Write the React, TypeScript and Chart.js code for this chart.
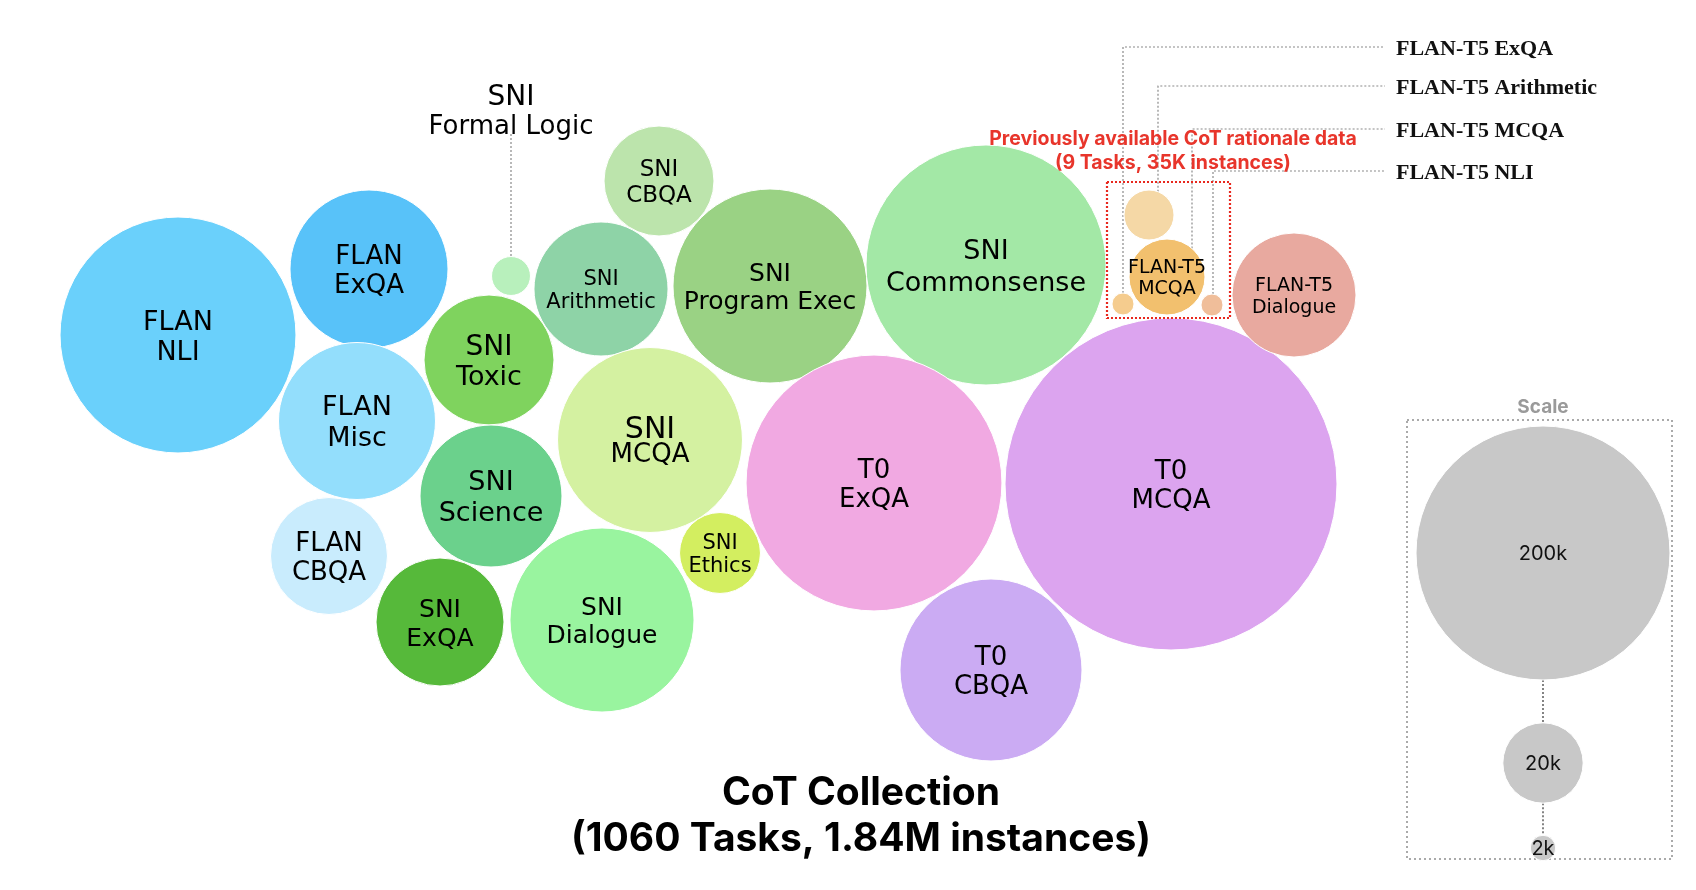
import { useEffect, useRef } from 'react';
import { Chart, registerables } from 'chart.js';

Chart.register(...registerables);

// ---------------- data ----------------
const TASKS = [
  'FLAN NLI', 'FLAN ExQA', 'FLAN Misc', 'FLAN CBQA',
  'SNI Formal Logic', 'SNI CBQA', 'SNI Arithmetic', 'SNI Toxic', 'SNI Program Exec',
  'SNI Commonsense', 'SNI MCQA', 'SNI Science', 'SNI ExQA', 'SNI Dialogue', 'SNI Ethics',
  'T0 ExQA', 'T0 MCQA', 'T0 CBQA',
  'FLAN-T5 Dialogue', 'FLAN-T5 Arithmetic', 'FLAN-T5 MCQA', 'FLAN-T5 ExQA', 'FLAN-T5 NLI',
];
// instances per task group, in thousands (bubble area ∝ instances)
const INSTANCES_K = [
  172.6, 77.4, 76.4, 42.4,
  4.7, 37.5, 55.7, 52.4, 116.7,
  178.6, 106, 62.5, 50.8, 105, 20.3,
  203, 341.7, 102.7,
  47.7, 7.75, 17.9, 1.5, 1.5,
];
// packed-bubble layout coordinates
const LAYOUT_X = [
  178, 369, 357, 329,
  511, 659, 601, 489, 770,
  986, 650, 491, 440, 602, 720,
  874, 1171, 991,
  1294, 1149, 1167, 1123, 1212,
];
const LAYOUT_Y = [
  335, 269, 421, 556,
  276, 181, 289, 360, 286,
  265, 440, 496, 622, 620, 553,
  483, 484, 670,
  295, 215, 277, 304, 305,
];
const LABEL_LINES: string[][] = [
  ['FLAN', 'NLI'], ['FLAN', 'ExQA'], ['FLAN', 'Misc'], ['FLAN', 'CBQA'],
  ['SNI', 'Formal Logic'], ['SNI', 'CBQA'], ['SNI', 'Arithmetic'], ['SNI', 'Toxic'], ['SNI', 'Program Exec'],
  ['SNI', 'Commonsense'], ['SNI', 'MCQA'], ['SNI', 'Science'], ['SNI', 'ExQA'], ['SNI', 'Dialogue'], ['SNI', 'Ethics'],
  ['T0', 'ExQA'], ['T0', 'MCQA'], ['T0', 'CBQA'],
  ['FLAN-T5', 'Dialogue'], [], ['FLAN-T5', 'MCQA'], [], [],
];
const CALLOUT_TASKS = ['FLAN-T5 ExQA', 'FLAN-T5 Arithmetic', 'FLAN-T5 MCQA', 'FLAN-T5 NLI'];
const SCALE_LABELS = ['200k', '20k', '2k'];
const SCALE_VALUES_K = [200, 20, 2];
const SCALE_X = [1543, 1543, 1543];
const SCALE_Y = [553, 763, 848];
const TITLE_LINES = ['CoT Collection', '(1060 Tasks, 1.84M instances)'];
const NOTE_LINES = ['Previously available CoT rationale data', '(9 Tasks, 35K instances)'];

// ---------------- style ----------------
const W = 1696;
const H = 890;
const R_200K = 127;
const radiusOf = (k: number) => R_200K * Math.sqrt(k / 200);

const COLORS = [
  '#6AD0FB', '#58C2F9', '#93DEFC', '#C9ECFD',
  '#B8F0BC', '#BCE4AC', '#8ED3A7', '#7FD35E', '#9AD284',
  '#A3E8A6', '#D4F1A1', '#6BD18C', '#56B93A', '#99F49F', '#D3EE60',
  '#F1A9E2', '#DCA4EF', '#CBABF3',
  '#E8A99F', '#F5D8A6', '#F2C06E', '#F5CC8E', '#F0BE9A',
];
const LABEL_SIZES: number[][] = [
  [27, 27], [26, 26], [27, 27], [26, 26],
  [28, 26], [23, 23], [21, 21], [28, 27], [25, 25],
  [27, 27], [30, 26], [27, 27], [25, 25], [25, 25], [21, 21],
  [26, 26], [26, 26], [26, 26],
  [19, 19], [], [19, 19], [], [],
];
const LABEL_GAP = [
  30, 29, 31, 29,
  30, 26, 23, 31, 28,
  32, 25, 31, 29, 28, 23,
  29, 29, 29,
  22, 0, 21, 0, 0,
];
const LABEL_DY: Record<string, number> = { 'SNI Formal Logic': -166 };
const CALLOUT_ROW_Y = [47, 86, 129, 171];
const CALLOUT_DX = [0, 9, 25, 1];
const CALLOUT_LINE_END = 1385;
const CALLOUT_TEXT_X = 1396;
const SANS = '"DejaVu Sans", sans-serif';

function drawLines(ctx: CanvasRenderingContext2D, lines: string[], sizes: number[], cx: number, cy: number, gap: number, family: string, weight: string, color: string) {
  ctx.fillStyle = color;
  ctx.textAlign = 'center';
  ctx.textBaseline = 'alphabetic';
  const total = gap * (lines.length - 1);
  lines.forEach((t, i) => {
    const s = sizes[i];
    ctx.font = `${weight} ${s}px ${family}`;
    ctx.fillText(t, cx, cy - total / 2 + i * gap + 0.36 * s);
  });
}

function dotted(ctx: CanvasRenderingContext2D, pts: number[][], color: string, width: number, dash: number[]) {
  ctx.save();
  ctx.strokeStyle = color;
  ctx.lineWidth = width;
  ctx.setLineDash(dash);
  ctx.beginPath();
  pts.forEach((p, i) => (i === 0 ? ctx.moveTo(p[0], p[1]) : ctx.lineTo(p[0], p[1])));
  ctx.stroke();
  ctx.restore();
}

const decorPlugin = {
  id: 'decor',
  beforeDatasetsDraw(chart: any) {
    const ctx: CanvasRenderingContext2D = chart.ctx;
    const meta = chart.getDatasetMeta(0);
    // callout lines
    CALLOUT_TASKS.forEach((name, k) => {
      const i = TASKS.indexOf(name);
      const el = meta.data[i];
      const r = el.options.radius;
      const dx = CALLOUT_DX[k];
      const x = el.x + dx;
      const yTop = el.y - Math.sqrt(Math.max(r * r - dx * dx, 0));
      dotted(ctx, [[x, yTop], [x, CALLOUT_ROW_Y[k]], [CALLOUT_LINE_END, CALLOUT_ROW_Y[k]]], '#8a8a8a', 1.2, [2, 2]);
    });
    // formal logic connector
    const fi = TASKS.indexOf('SNI Formal Logic');
    const fe = meta.data[fi];
    dotted(ctx, [[fe.x, fe.y + LABEL_DY['SNI Formal Logic'] + 24], [fe.x, fe.y - fe.options.radius]], '#8a8a8a', 1.2, [2, 2]);
    // scale box + connectors
    const sm = chart.getDatasetMeta(1);
    dotted(ctx, [[1407, 420], [1672, 420], [1672, 859], [1407, 859], [1407, 420]], '#aaaaaa', 2, [2, 3]);
    for (let j = 0; j < sm.data.length - 1; j++) {
      const a = sm.data[j], b = sm.data[j + 1];
      dotted(ctx, [[a.x, a.y + a.options.radius], [b.x, b.y - b.options.radius]], '#333333', 1.2, [2, 2]);
    }
  },
  afterDatasetsDraw(chart: any) {
    const ctx: CanvasRenderingContext2D = chart.ctx;
    const meta = chart.getDatasetMeta(0);
    TASKS.forEach((name, i) => {
      const lines = LABEL_LINES[i];
      if (!lines.length) return;
      const el = meta.data[i];
      drawLines(ctx, lines, LABEL_SIZES[i], el.x, el.y + (LABEL_DY[name] || 0), LABEL_GAP[i], SANS, 'normal', '#000');
    });
    // red box around previous CoT data
    const idx = ['FLAN-T5 Arithmetic', 'FLAN-T5 MCQA', 'FLAN-T5 ExQA', 'FLAN-T5 NLI'].map((n) => TASKS.indexOf(n));
    let x0 = Infinity, x1 = -Infinity, y0 = Infinity, y1 = -Infinity;
    idx.forEach((i) => {
      const el = meta.data[i];
      const r = el.options.radius;
      x0 = Math.min(x0, el.x - r); x1 = Math.max(x1, el.x + r);
      y0 = Math.min(y0, el.y - r); y1 = Math.max(y1, el.y + r);
    });
    x0 -= 5; x1 += 7; y0 -= 8; y1 += 2;
    dotted(ctx, [[x0, y0], [x1, y0], [x1, y1], [x0, y1], [x0, y0]], '#E8281E', 2.2, [2, 2]);
    // note text
    drawLines(ctx, NOTE_LINES, [19.5, 19.5], 1173, 150, 24, 'Inter, sans-serif', 'bold', '#E8352B');
    // callout labels
    ctx.fillStyle = '#111';
    ctx.textAlign = 'left';
    ctx.textBaseline = 'middle';
    ctx.font = 'bold 22px "Liberation Serif", serif';
    CALLOUT_TASKS.forEach((name, k) => {
      ctx.fillText(name, CALLOUT_TEXT_X, CALLOUT_ROW_Y[k] + 2);
    });
    // scale
    const sm = chart.getDatasetMeta(1);
    sm.data.forEach((el: any, j: number) => {
      drawLines(ctx, [SCALE_LABELS[j]], [20], el.x, el.y, 0, 'Inter, sans-serif', 'normal', '#111');
    });
    drawLines(ctx, ['Scale'], [19], 1543, 406, 0, 'Inter, sans-serif', 'bold', '#9a9a9a');
    // title
    drawLines(ctx, TITLE_LINES, [39, 39], 861, 814, 46, 'Inter, sans-serif', 'bold', '#000');
  },
};

export default function App() {
  const ref = useRef<HTMLCanvasElement | null>(null);
  useEffect(() => {
    if (!ref.current) return;
    const chart = new Chart(ref.current, {
      type: 'bubble',
      data: {
        datasets: [
          {
            label: 'Tasks',
            data: TASKS.map((t, i) => ({ x: LAYOUT_X[i], y: LAYOUT_Y[i], v: INSTANCES_K[i] })) as any,
            backgroundColor: COLORS,
            borderColor: '#ffffff',
            borderWidth: 1,
            radius: (c: any) => radiusOf(c.raw.v),
            clip: false as any,
          },
          {
            label: 'Scale',
            data: SCALE_LABELS.map((t, i) => ({ x: SCALE_X[i], y: SCALE_Y[i], v: SCALE_VALUES_K[i] })) as any,
            backgroundColor: '#C8C8C8',
            borderColor: '#ffffff',
            borderWidth: 1,
            radius: (c: any) => radiusOf(c.raw.v),
            clip: false as any,
          },
        ],
      },
      options: {
        animation: false,
        responsive: false,
        events: [],
        layout: { padding: 0, autoPadding: false },
        plugins: { legend: { display: false }, tooltip: { enabled: false } },
        scales: {
          x: { type: 'linear', min: 0, max: W, display: false },
          y: { type: 'linear', min: 0, max: H, reverse: true, display: false },
        },
      },
      plugins: [decorPlugin],
    });
    return () => chart.destroy();
  }, []);
  return (
    <div style={{ position: 'absolute', left: 0, top: 0, width: W, height: H, background: '#fff' }}>
      <canvas ref={ref} width={W} height={H} style={{ width: W, height: H, display: 'block' }} />
    </div>
  );
}
